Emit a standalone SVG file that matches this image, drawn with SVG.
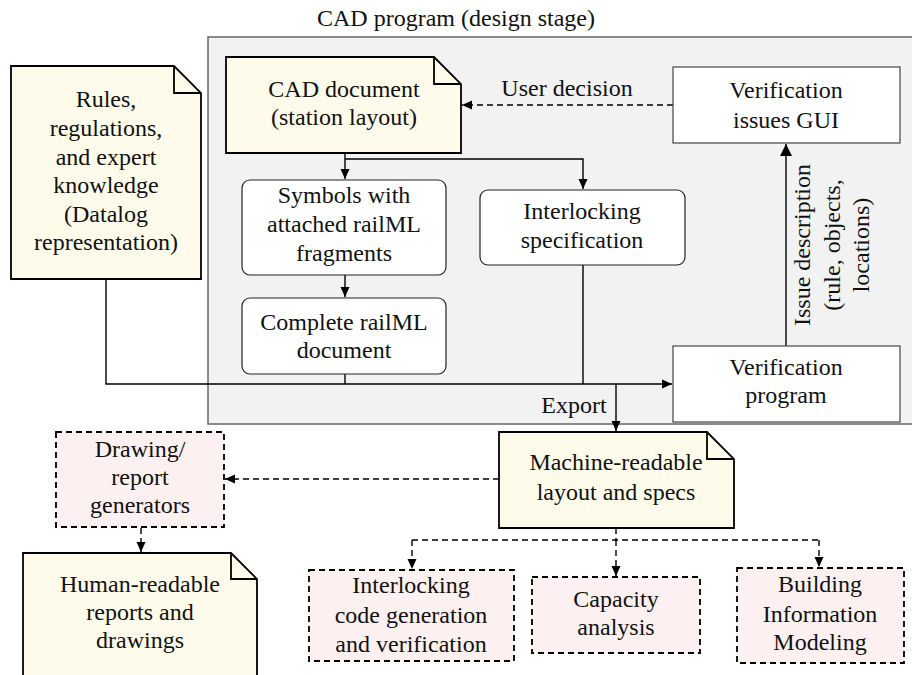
<svg xmlns="http://www.w3.org/2000/svg" width="912" height="675" viewBox="0 0 912 675">
<style>
text{font-family:'Liberation Serif','Times New Roman',serif;font-size:24px;fill:#111;text-anchor:middle}
.note{fill:#fffbea;stroke:#000;stroke-width:1.8}
.fold{fill:none;stroke:#000;stroke-width:1.8}
.rbox{fill:#fff;stroke:#222;stroke-width:1.2}
.sbox{fill:#fff;stroke:#444;stroke-width:1.2}
.pbox{fill:#fdf0f0;stroke:#000;stroke-width:1.8;stroke-dasharray:6 4}
.c{fill:none;stroke:#000;stroke-width:1.4}
.d{fill:none;stroke:#000;stroke-width:1.4;stroke-dasharray:6 4}
</style>
<defs>
<marker id="ah" markerUnits="userSpaceOnUse" markerWidth="12" markerHeight="10" refX="10" refY="5" orient="auto">
<path d="M0,0.5 L10,5 L0,9.5 Z" fill="#000"/>
</marker>
<marker id="ahb" markerUnits="userSpaceOnUse" markerWidth="14" markerHeight="14" refX="12" refY="6" orient="auto">
<path d="M0,0 L12,6 L0,12 Z" fill="#000"/>
</marker>
</defs>

<g id="container">
<rect x="208" y="37" width="720" height="387" fill="#f2f2f2" stroke="#666" stroke-width="1.5"/>
<text x="456" y="26">CAD program (design stage)</text>
</g>

<g id="connectors">
<path class="d" d="M673,105 H462" marker-end="url(#ah)"/>
<path class="c" d="M345,153 V179" marker-end="url(#ah)"/>
<path class="c" d="M345,159 H583 V189" marker-end="url(#ah)"/>
<path class="c" d="M345,275 V297" marker-end="url(#ah)"/>
<path class="c" d="M345,374 V384"/>
<path class="c" d="M583,265 V384"/>
<path class="c" d="M106,279 V384 H672" stroke-width="2" marker-end="url(#ah)"/>
<path class="c" d="M616,384 V431" marker-end="url(#ah)"/>
<path class="c" d="M786,346 V144" stroke-width="3.5" marker-end="url(#ahb)"/>
<text transform="translate(810,245) rotate(-90)">Issue description</text>
<text transform="translate(840,245) rotate(-90)">(rule, objects,</text>
<text transform="translate(869,245) rotate(-90)">locations)</text>
<text x="567" y="96">User decision</text>
<text x="574" y="413">Export</text>
<path class="d" d="M499,479 H225" marker-end="url(#ah)"/>
<path class="d" d="M141,528 V552" marker-end="url(#ah)"/>
<path class="d" d="M616,528 V540"/>
<path class="d" d="M412,540 H819"/>
<path class="d" d="M412,540 V569" marker-end="url(#ah)"/>
<path class="d" d="M616,540 V576" marker-end="url(#ah)"/>
<path class="d" d="M819,540 V567" marker-end="url(#ah)"/>
</g>

<g id="rules">
<path class="note" d="M11,66 H174 L201,93 V279 H11 Z"/>
<path class="fold" d="M174,66 V93 H201"/>
<text x="106" y="107">Rules,</text>
<text x="106" y="136">regulations,</text>
<text x="106" y="165">and expert</text>
<text x="106" y="193">knowledge</text>
<text x="106" y="222">(Datalog</text>
<text x="106" y="250">representation)</text>
</g>

<g id="cad-document">
<path class="note" d="M226,57 H434 L461,84 V153 H226 Z"/>
<path class="fold" d="M434,57 V84 H461"/>
<text x="344" y="97">CAD document</text>
<text x="344" y="125">(station layout)</text>
</g>

<g id="gui">
<rect class="sbox" x="673" y="67" width="227" height="76"/>
<text x="786" y="98">Verification</text>
<text x="786" y="128">issues GUI</text>
</g>

<g id="symbols">
<rect class="rbox" x="242" y="180" width="204" height="95" rx="8"/>
<text x="344" y="203">Symbols with</text>
<text x="344" y="232">attached railML</text>
<text x="344" y="261">fragments</text>
</g>

<g id="interlocking-spec">
<rect class="rbox" x="480" y="190" width="205" height="75" rx="8"/>
<text x="582" y="219">Interlocking</text>
<text x="582" y="248">specification</text>
</g>

<g id="complete-railml">
<rect class="rbox" x="242" y="298" width="204" height="76" rx="8"/>
<text x="344" y="330">Complete railML</text>
<text x="344" y="358">document</text>
</g>

<g id="verification-program">
<rect class="sbox" x="673" y="346" width="227" height="76"/>
<text x="786" y="375">Verification</text>
<text x="786" y="403">program</text>
</g>

<g id="machine-readable">
<path class="note" d="M499,432 H707 L734,459 V528 H499 Z"/>
<path class="fold" d="M707,432 V459 H734"/>
<text x="616" y="470">Machine-readable</text>
<text x="616" y="500">layout and specs</text>
</g>

<g id="drawing-generators">
<rect class="pbox" x="56" y="432" width="168" height="95"/>
<text x="140" y="457">Drawing/</text>
<text x="140" y="485">report</text>
<text x="140" y="513">generators</text>
</g>

<g id="human-readable">
<path class="note" d="M23,553 H231 L257,579 V690 H23 Z"/>
<path class="fold" d="M231,553 V579 H257"/>
<text x="140" y="592">Human-readable</text>
<text x="140" y="620">reports and</text>
<text x="140" y="648">drawings</text>
</g>

<g id="interlocking-code">
<rect class="pbox" x="309" y="570" width="205" height="91"/>
<text x="411" y="593">Interlocking</text>
<text x="411" y="623">code generation</text>
<text x="411" y="652">and verification</text>
</g>

<g id="capacity">
<rect class="pbox" x="532" y="577" width="168" height="76"/>
<text x="616" y="607">Capacity</text>
<text x="616" y="635">analysis</text>
</g>

<g id="bim">
<rect class="pbox" x="737" y="568" width="167" height="95"/>
<text x="820" y="592">Building</text>
<text x="820" y="622">Information</text>
<text x="820" y="650">Modeling</text>
</g>
</svg>
